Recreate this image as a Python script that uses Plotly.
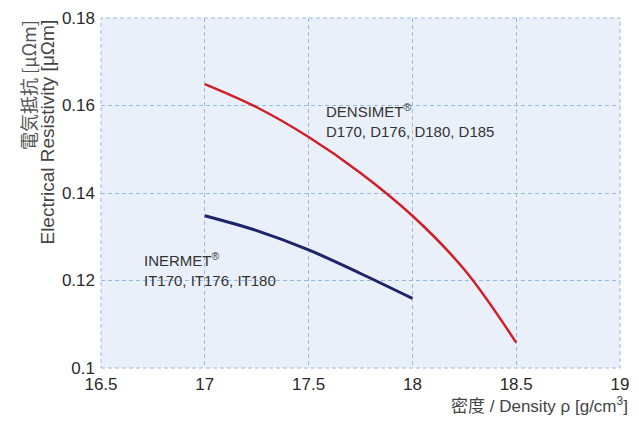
import plotly.graph_objects as go

densimet_x = [17.0, 17.25, 17.5, 17.75, 18.0, 18.25, 18.5]
densimet_y = [0.1649, 0.1596, 0.1528, 0.1446, 0.1348, 0.1225, 0.1058]
inermet_x = [17.0, 17.25, 17.5, 17.75, 18.0]
inermet_y = [0.1348, 0.1314, 0.1270, 0.1216, 0.1159]

x_ticks = [16.5, 17, 17.5, 18, 18.5, 19]
x_tick_text = ["16.5", "17", "17.5", "18", "18.5", "19"]
y_ticks = [0.10, 0.12, 0.14, 0.16, 0.18]
y_tick_text = ["0.1", "0.12", "0.14", "0.16", "0.18"]

FONT = "Liberation Sans, Arial, Noto Sans CJK JP, sans-serif"
CJK_FONT = "Noto Sans CJK JP, Liberation Sans, sans-serif"
GRID = "#98bae0"

fig = go.Figure()
fig.add_trace(go.Scatter(x=densimet_x, y=densimet_y, mode="lines",
                         line=dict(color="#d01f28", width=2.5, shape="spline", smoothing=1.0),
                         showlegend=False, hoverinfo="skip"))
fig.add_trace(go.Scatter(x=inermet_x, y=inermet_y, mode="lines",
                         line=dict(color="#1d2468", width=3, shape="spline", smoothing=1.0),
                         showlegend=False, hoverinfo="skip"))

fig.update_layout(
    width=623, height=407,
    margin=dict(l=93, r=11, t=10, b=47, autoexpand=False),
    paper_bgcolor="white",
    plot_bgcolor="#eaf0f9",
    font=dict(family=FONT, size=17, color="#333333"),
    xaxis=dict(range=[16.5, 19], tickvals=x_ticks, ticktext=x_tick_text, automargin=False,
               showgrid=True, gridcolor=GRID, griddash="4px,3px", gridwidth=1,
               zeroline=False, showline=False, ticks="", ticklabelstandoff=4,
               tickfont=dict(size=17, color="#2a2a2a")),
    yaxis=dict(range=[0.1, 0.18], tickvals=y_ticks, ticktext=y_tick_text, automargin=False,
               showgrid=True, gridcolor=GRID, griddash="4px,3px", gridwidth=1,
               zeroline=False, showline=False, ticks="", ticklabelstandoff=5,
               tickfont=dict(size=17, color="#2a2a2a")),
    shapes=[dict(type="rect", xref="paper", yref="paper", x0=0, y0=0, x1=1, y1=1,
                 line=dict(color=GRID, width=1, dash="4px,3px"), layer="above")],
)

fig.add_annotation(x=17.575, y=0.1565, xref="x", yref="y", xanchor="left", yanchor="middle",
                   text="DENSIMET<sup>®</sup><br>D170, D176, D180, D185",
                   showarrow=False, align="left", font=dict(size=15, color="#333333"))
fig.add_annotation(x=16.696, y=0.1226, xref="x", yref="y", xanchor="left", yanchor="middle",
                   text="INERMET<sup>®</sup><br>IT170, IT176, IT180",
                   showarrow=False, align="left", font=dict(size=15, color="#333333"))

fig.add_annotation(x=1.019, y=-0.106, xref="paper", yref="paper", xanchor="right", yanchor="middle",
                   text="密度 / Density ρ [g/cm<sup>3</sup>]", showarrow=False,
                   font=dict(size=17, color="#444444"))
fig.add_annotation(x=-0.1407, y=1.0, xref="paper", yref="paper", xanchor="center", yanchor="top",
                   text="電気抵抗 [μΩm]", textangle=-90, showarrow=False,
                   font=dict(family=CJK_FONT, size=18, color="#555555"))
fig.add_annotation(x=-0.104, y=1.0, xref="paper", yref="paper", xanchor="center", yanchor="top",
                   text="Electrical Resistivity [μΩm]", textangle=-90, showarrow=False,
                   font=dict(size=19, color="#444444"))

fig.write_html("out.html")
